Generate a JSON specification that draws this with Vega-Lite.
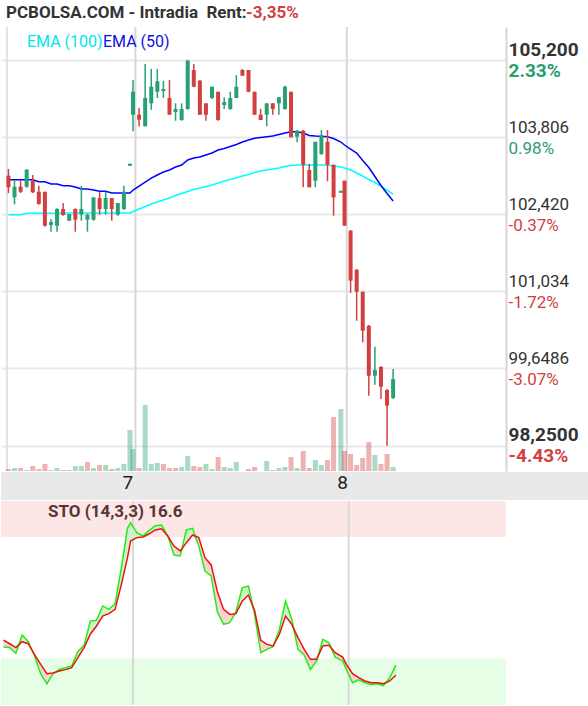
{
  "$schema": "https://vega.github.io/schema/vega-lite/v6.json",
  "padding": {"top": 4, "left": 0, "right": 0, "bottom": 0},
  "background": "white",
  "datasets": {
    "days": [{"day": "7", "i": 20.89, "li": 20.04}, {"day": "8", "i": 55.68, "li": 54.71}],
    "candles": [
      {"i":0,"o":103.115,"h":103.235,"l":102.803,"c":102.906,"dir":"down","vol":2,"vdir":"down","e50":103.043,"e100":102.412,"k":25.6,"d":29.0},
      {"i":1,"o":102.725,"h":103.037,"l":102.599,"c":102.916,"dir":"up","vol":3,"vdir":"up","e50":103.043,"e100":102.412,"k":25.3,"d":27.2},
      {"i":2,"o":102.916,"h":103.037,"l":102.803,"c":102.826,"dir":"down","vol":3,"vdir":"down","e50":103.043,"e100":102.412,"k":22.5,"d":25.3},
      {"i":3,"o":102.916,"h":103.235,"l":102.898,"c":103.223,"dir":"up","vol":1,"vdir":"up","e50":103.043,"e100":102.437,"k":31.5,"d":28.2},
      {"i":4,"o":103.025,"h":103.127,"l":102.803,"c":102.816,"dir":"down","vol":5,"vdir":"down","e50":103.043,"e100":102.437,"k":28.2,"d":27.2},
      {"i":5,"o":102.826,"h":102.934,"l":102.592,"c":102.605,"dir":"down","vol":2,"vdir":"down","e50":103.007,"e100":102.437,"k":21.1,"d":21.9},
      {"i":6,"o":102.826,"h":102.826,"l":102.196,"c":102.214,"dir":"down","vol":7,"vdir":"down","e50":103.007,"e100":102.437,"k":12.4,"d":17.0},
      {"i":7,"o":102.226,"h":102.334,"l":102.106,"c":102.280,"dir":"up","vol":1,"vdir":"up","e50":102.965,"e100":102.437,"k":7.4,"d":12.4},
      {"i":8,"o":102.214,"h":102.527,"l":102.106,"c":102.515,"dir":"up","vol":3,"vdir":"up","e50":102.965,"e100":102.437,"k":12.4,"d":12.7},
      {"i":9,"o":102.515,"h":102.623,"l":102.394,"c":102.406,"dir":"down","vol":1,"vdir":"down","e50":102.935,"e100":102.437,"k":14.5,"d":13.7},
      {"i":10,"o":102.304,"h":102.425,"l":102.304,"c":102.425,"dir":"up","vol":1,"vdir":"down","e50":102.935,"e100":102.443,"k":15.4,"d":14.4},
      {"i":11,"o":102.515,"h":102.527,"l":102.106,"c":102.322,"dir":"down","vol":5,"vdir":"up","e50":102.911,"e100":102.443,"k":16.2,"d":15.4},
      {"i":12,"o":102.412,"h":102.929,"l":102.304,"c":102.515,"dir":"up","vol":5,"vdir":"up","e50":102.875,"e100":102.443,"k":23.4,"d":20.3},
      {"i":13,"o":102.322,"h":102.425,"l":102.106,"c":102.412,"dir":"up","vol":9,"vdir":"down","e50":102.875,"e100":102.443,"k":26.4,"d":25.3},
      {"i":14,"o":102.322,"h":102.725,"l":102.304,"c":102.725,"dir":"up","vol":3,"vdir":"up","e50":102.857,"e100":102.443,"k":38.4,"d":31.9},
      {"i":15,"o":102.713,"h":102.826,"l":102.412,"c":102.515,"dir":"down","vol":6,"vdir":"down","e50":102.834,"e100":102.443,"k":38.8,"d":36.0},
      {"i":16,"o":102.515,"h":102.826,"l":102.412,"c":102.713,"dir":"up","vol":6,"vdir":"up","e50":102.834,"e100":102.443,"k":45.9,"d":40.9},
      {"i":17,"o":102.713,"h":102.713,"l":102.304,"c":102.515,"dir":"down","vol":2,"vdir":"down","e50":102.803,"e100":102.443,"k":44.2,"d":42.1},
      {"i":18,"o":102.412,"h":102.623,"l":102.394,"c":102.623,"dir":"up","vol":3,"vdir":"up","e50":102.803,"e100":102.443,"k":47.0,"d":44.2},
      {"i":19,"o":102.515,"h":102.934,"l":102.497,"c":102.826,"dir":"up","vol":7,"vdir":"up","e50":102.803,"e100":102.443,"k":64.5,"d":56.3},
      {"i":20,"o":103.295,"h":103.331,"l":103.295,"c":103.331,"dir":"up","vol":41,"vdir":"up","e50":102.803,"e100":102.443,"k":84.3,"d":69.8},
      {"i":20.5,"o":104.214,"h":104.839,"l":103.915,"c":104.628,"dir":"up","vol":22,"vdir":"up","e50":102.857,"e100":102.470,"k":87.1,"d":78.0},
      {"i":21.5,"o":104.214,"h":104.335,"l":104.005,"c":104.124,"dir":"down","vol":3,"vdir":"down","e50":102.929,"e100":102.515,"k":82.1,"d":79.7},
      {"i":22.5,"o":104.005,"h":105.128,"l":104.005,"c":104.515,"dir":"up","vol":66,"vdir":"up","e50":103.001,"e100":102.560,"k":80.5,"d":80.0},
      {"i":23.5,"o":104.419,"h":105.038,"l":104.304,"c":104.719,"dir":"up","vol":7,"vdir":"up","e50":103.073,"e100":102.605,"k":83.3,"d":81.6},
      {"i":24.5,"o":104.628,"h":105.038,"l":104.515,"c":104.816,"dir":"up","vol":8,"vdir":"up","e50":103.127,"e100":102.641,"k":85.6,"d":83.5},
      {"i":25.5,"o":104.641,"h":104.827,"l":104.515,"c":104.677,"dir":"up","vol":7,"vdir":"down","e50":103.181,"e100":102.677,"k":85.9,"d":84.1},
      {"i":26.5,"o":104.515,"h":104.839,"l":104.214,"c":104.214,"dir":"down","vol":3,"vdir":"down","e50":103.217,"e100":102.713,"k":80.5,"d":80.5},
      {"i":27.5,"o":104.263,"h":104.419,"l":104.106,"c":104.317,"dir":"up","vol":3,"vdir":"down","e50":103.272,"e100":102.758,"k":71.1,"d":75.5},
      {"i":28.5,"o":104.118,"h":104.419,"l":104.106,"c":104.317,"dir":"up","vol":4,"vdir":"up","e50":103.308,"e100":102.794,"k":70.6,"d":73.1},
      {"i":29.5,"o":104.317,"h":105.2,"l":104.304,"c":105.19,"dir":"up","vol":15,"vdir":"up","e50":103.398,"e100":102.830,"k":83.5,"d":77.2},
      {"i":30.5,"o":105.020,"h":105.128,"l":104.708,"c":104.719,"dir":"down","vol":5,"vdir":"down","e50":103.434,"e100":102.866,"k":84.3,"d":81.0},
      {"i":31.5,"o":104.827,"h":104.839,"l":104.214,"c":104.214,"dir":"down","vol":4,"vdir":"down","e50":103.452,"e100":102.893,"k":75.5,"d":79.7},
      {"i":32.5,"o":104.419,"h":104.419,"l":104.106,"c":104.214,"dir":"down","vol":7,"vdir":"up","e50":103.488,"e100":102.920,"k":63.2,"d":69.8},
      {"i":33.5,"o":104.515,"h":104.719,"l":104.497,"c":104.719,"dir":"up","vol":2,"vdir":"up","e50":103.524,"e100":102.947,"k":60.7,"d":66.2},
      {"i":34.5,"o":104.628,"h":104.628,"l":104.106,"c":104.118,"dir":"down","vol":14,"vdir":"down","e50":103.578,"e100":102.983,"k":42.9,"d":52.9},
      {"i":35.5,"o":104.389,"h":104.528,"l":104.317,"c":104.443,"dir":"up","vol":4,"vdir":"up","e50":103.605,"e100":103.019,"k":36.8,"d":44.2},
      {"i":36.5,"o":104.317,"h":104.628,"l":104.304,"c":104.515,"dir":"up","vol":3,"vdir":"up","e50":103.641,"e100":103.046,"k":37.6,"d":41.7},
      {"i":37.5,"o":104.515,"h":104.929,"l":104.515,"c":104.719,"dir":"up","vol":9,"vdir":"up","e50":103.677,"e100":103.073,"k":43.1,"d":42.1},
      {"i":38.5,"o":105.020,"h":105.038,"l":104.917,"c":104.917,"dir":"down","vol":0,"vdir":"up","e50":103.722,"e100":103.109,"k":54.9,"d":48.3},
      {"i":39.5,"o":105.020,"h":105.020,"l":104.618,"c":104.628,"dir":"down","vol":2,"vdir":"down","e50":103.758,"e100":103.136,"k":55.8,"d":51.3},
      {"i":40.5,"o":104.628,"h":104.628,"l":104.214,"c":104.214,"dir":"down","vol":4,"vdir":"down","e50":103.789,"e100":103.172,"k":41.7,"d":43.7},
      {"i":41.5,"o":104.214,"h":104.317,"l":104.118,"c":104.118,"dir":"down","vol":0,"vdir":"up","e50":103.803,"e100":103.199,"k":22.8,"d":28.9},
      {"i":42.5,"o":104.214,"h":104.419,"l":104.005,"c":104.419,"dir":"up","vol":10,"vdir":"up","e50":103.818,"e100":103.217,"k":24.4,"d":26.9},
      {"i":43.5,"o":104.419,"h":104.419,"l":104.214,"c":104.317,"dir":"down","vol":1,"vdir":"down","e50":103.830,"e100":103.235,"k":25.9,"d":26.1},
      {"i":44.5,"o":104.419,"h":104.528,"l":104.214,"c":104.528,"dir":"up","vol":3,"vdir":"up","e50":103.857,"e100":103.253,"k":34.3,"d":31.9},
      {"i":45.5,"o":104.317,"h":104.737,"l":104.304,"c":104.719,"dir":"up","vol":4,"vdir":"up","e50":103.884,"e100":103.280,"k":48.3,"d":40.9},
      {"i":46.5,"o":104.628,"h":104.628,"l":103.807,"c":103.807,"dir":"down","vol":14,"vdir":"down","e50":103.908,"e100":103.299,"k":39.3,"d":36.8},
      {"i":47.5,"o":103.818,"h":103.938,"l":103.717,"c":103.926,"dir":"up","vol":3,"vdir":"up","e50":103.908,"e100":103.308,"k":24.4,"d":30.2},
      {"i":48.5,"o":103.926,"h":103.938,"l":102.906,"c":103.313,"dir":"down","vol":20,"vdir":"down","e50":103.884,"e100":103.308,"k":21.6,"d":24.4},
      {"i":49.5,"o":103.217,"h":103.326,"l":102.906,"c":102.906,"dir":"down","vol":3,"vdir":"down","e50":103.839,"e100":103.308,"k":14.5,"d":19.5},
      {"i":50.5,"o":103.025,"h":103.727,"l":102.906,"c":103.727,"dir":"up","vol":11,"vdir":"up","e50":103.830,"e100":103.308,"k":18.7,"d":19.5},
      {"i":51.5,"o":103.506,"h":103.938,"l":103.488,"c":103.836,"dir":"up","vol":6,"vdir":"up","e50":103.825,"e100":103.308,"k":29.4,"d":26.1},
      {"i":52.5,"o":103.727,"h":103.938,"l":103.014,"c":103.313,"dir":"down","vol":11,"vdir":"down","e50":103.818,"e100":103.308,"k":27.7,"d":26.4},
      {"i":53.5,"o":103.313,"h":103.313,"l":102.394,"c":102.725,"dir":"down","vol":54,"vdir":"down","e50":103.785,"e100":103.290,"k":20.6,"d":22.8},
      {"i":54.7,"o":102.808,"h":102.844,"l":102.808,"c":102.844,"dir":"up","vol":62,"vdir":"up","e50":103.722,"e100":103.272,"k":18.7,"d":20.6},
      {"i":55.3,"o":103.025,"h":103.025,"l":102.214,"c":102.214,"dir":"down","vol":20,"vdir":"down","e50":103.668,"e100":103.253,"k":14.5,"d":17.0},
      {"i":56.3,"o":102.124,"h":102.136,"l":101.001,"c":101.223,"dir":"down","vol":17,"vdir":"down","e50":103.596,"e100":103.217,"k":7.9,"d":12.4},
      {"i":57.3,"o":101.421,"h":101.433,"l":100.502,"c":101.024,"dir":"down","vol":6,"vdir":"down","e50":103.524,"e100":103.163,"k":9.4,"d":10.4},
      {"i":58.3,"o":101.024,"h":101.024,"l":100.112,"c":100.321,"dir":"down","vol":13,"vdir":"down","e50":103.389,"e100":103.109,"k":7.9,"d":8.8},
      {"i":59.3,"o":100.412,"h":100.424,"l":99.150,"c":99.510,"dir":"down","vol":29,"vdir":"down","e50":103.263,"e100":103.046,"k":7.1,"d":7.9},
      {"i":60.3,"o":99.510,"h":100.033,"l":99.348,"c":99.613,"dir":"up","vol":16,"vdir":"up","e50":103.100,"e100":102.992,"k":7.4,"d":7.9},
      {"i":61.3,"o":99.673,"h":99.673,"l":99.091,"c":99.312,"dir":"down","vol":7,"vdir":"down","e50":102.938,"e100":102.929,"k":6.5,"d":7.4},
      {"i":62.3,"o":99.253,"h":99.271,"l":98.25,"c":98.970,"dir":"down","vol":17,"vdir":"down","e50":102.794,"e100":102.857,"k":10.4,"d":8.8},
      {"i":63.3,"o":99.109,"h":99.631,"l":99.091,"c":99.451,"dir":"up","vol":4,"vdir":"up","e50":102.659,"e100":102.785,"k":16.6,"d":11.6}
    ]
  },
  "title": {
    "text": "PCBOLSA.COM - Intradia\u00a0 Rent:",
    "anchor": "start",
    "frame": "group",
    "offset": -18,
    "dx": 5,
    "font": "Roboto",
    "fontSize": 17,
    "fontWeight": "bold",
    "color": "#333333"
  },
  "spacing": 0,
  "vconcat": [
    {
      "width": 505,
      "height": 444,
      "title": {"text": "-3,35%", "anchor": "start", "frame": "group", "offset": 4, "dx": 245, "font": "Roboto", "fontSize": 17, "fontWeight": "bold", "color": "#d23f3f"},
      "layer": [
        {
          "layer": [
            {
              "data": {"name": "days"},
              "mark": {"type": "rule", "color": "#d9d9d9", "strokeWidth": 2},
              "encoding": {"x": {"field": "i", "type": "quantitative", "scale": {"domain": [-0.4, 81.05], "nice": false, "zero": false}, "axis": null}}
            },
            {
              "data": {"values": [{}]},
              "mark": {"type": "rule", "color": "#e3e3e3", "strokeWidth": 2},
              "encoding": {"x": {"datum": -0.24, "type": "quantitative", "scale": {"domain": [-0.4, 81.05], "nice": false, "zero": false}, "axis": null}}
            },
            {
              "data": {"name": "candles"},
              "transform": [{"fold": ["e100", "e50"], "as": ["ema", "val"]}],
              "mark": {"type": "line", "strokeWidth": 1.5},
              "encoding": {
                "x": {"field": "i", "type": "quantitative", "scale": {"domain": [-0.4, 81.05], "nice": false, "zero": false}, "axis": null},
                "y": {"field": "val", "type": "quantitative", "scale": {"domain": [97.793, 105.795], "nice": false, "zero": false}, "axis": null},
                "stroke": {
                  "field": "ema", "type": "nominal",
                  "scale": {"domain": ["e100", "e50"], "range": ["#00ffff", "#0000ff"]},
                  "legend": {
                    "title": null, "orient": "none", "legendX": 26, "legendY": 7,
                    "direction": "horizontal", "symbolSize": 0, "symbolStrokeWidth": 0,
                    "labelOffset": -16, "columnPadding": 0, "padding": 0,
                    "labelFont": "Roboto", "labelFontSize": 16,
                    "labelExpr": "datum.label == 'e100' ? 'EMA (100)' : 'EMA (50)'",
                    "encode": {"labels": {"update": {"fill": {"signal": "datum.value == 'e100' ? '#00e5f0' : '#1010e0'"}}}}
                  }
                }
              }
            },
            {
              "data": {"name": "candles"},
              "mark": {"type": "rule", "strokeWidth": 1.5},
              "encoding": {
                "x": {"field": "i", "type": "quantitative", "scale": {"domain": [-0.4, 81.05], "nice": false, "zero": false}, "axis": null},
                "y": {
                  "field": "l", "type": "quantitative",
                  "scale": {"domain": [97.793, 105.795], "nice": false, "zero": false},
                  "axis": {
                    "orient": "right",
                    "values": [98.25, 99.6486, 101.034, 102.42, 103.806, 105.2],
                    "title": null, "grid": true, "gridColor": "#e9e9e9", "gridWidth": 2,
                    "domain": true, "domainColor": "#d6d6d6", "domainWidth": 2,
                    "ticks": false, "labelPadding": 2, "labelFont": "Roboto",
                    "labelColor": "#333333", "labelBaseline": "alphabetic", "labelOffset": -5,
                    "labelOverlap": false, "labelFlush": false,
                    "labelFontSize": {"condition": {"test": "datum.value > 105 || datum.value < 98.5", "value": 19}, "value": 17},
                    "labelFontWeight": {"condition": {"test": "datum.value > 105 || datum.value < 98.5", "value": "bold"}, "value": "normal"},
                    "labelExpr": "datum.value > 105 ? '105,200' : datum.value > 103.5 ? '103,806' : datum.value > 102 ? '102,420' : datum.value > 100.5 ? '101,034' : datum.value > 99 ? '99,6486' : '98,2500'"
                  }
                },
                "y2": {"field": "h"},
                "color": {"field": "dir", "type": "nominal", "scale": {"domain": ["up", "down"], "range": ["#27a074", "#d23f3f"]}, "legend": null}
              }
            },
            {
              "data": {"name": "candles"},
              "mark": {"type": "bar", "size": 4},
              "encoding": {
                "x": {"field": "i", "type": "quantitative", "scale": {"domain": [-0.4, 81.05], "nice": false, "zero": false}, "axis": null},
                "y": {
                  "field": "o", "type": "quantitative",
                  "scale": {"domain": [97.793, 105.795], "nice": false, "zero": false},
                  "axis": {
                    "orient": "right",
                    "values": [98.25, 99.6486, 101.034, 102.42, 103.806, 105.2],
                    "title": null, "grid": false, "domain": false, "ticks": false,
                    "labelPadding": 2, "labelFont": "Roboto",
                    "labelBaseline": "alphabetic", "labelOffset": 16,
                    "labelOverlap": false, "labelFlush": false,
                    "labelColor": {"condition": {"test": "datum.value > 102.8", "value": "#2a9d6d"}, "value": "#d23f3f"},
                    "labelFontSize": {"condition": {"test": "datum.value > 105 || datum.value < 98.5", "value": 19}, "value": 17},
                    "labelFontWeight": {"condition": {"test": "datum.value > 105 || datum.value < 98.5", "value": "bold"}, "value": "normal"},
                    "labelExpr": "datum.value > 105 ? '2.33%' : datum.value > 103.5 ? '0.98%' : datum.value > 102 ? '-0.37%' : datum.value > 100.5 ? '-1.72%' : datum.value > 99 ? '-3.07%' : '-4.43%'"
                  }
                },
                "y2": {"field": "c"},
                "color": {"field": "dir", "type": "nominal", "scale": {"domain": ["up", "down"], "range": ["#27a074", "#d23f3f"]}, "legend": null}
              }
            }
          ],
          "resolve": {"axis": {"y": "independent"}}
        },
        {
          "data": {"name": "candles"},
          "mark": {"type": "bar", "size": 5, "opacity": 0.4},
          "encoding": {
            "x": {"field": "i", "type": "quantitative", "scale": {"domain": [-0.4, 81.05], "nice": false, "zero": false}, "axis": null},
            "y": {"field": "vol", "type": "quantitative", "scale": {"domain": [0, 444]}, "axis": null},
            "color": {"field": "vdir", "type": "nominal", "scale": {"domain": ["up", "down"], "range": ["#27a074", "#d23f3f"]}, "legend": null}
          }
        }
      ],
      "resolve": {"scale": {"y": "independent"}}
    },
    {
      "width": 588,
      "height": 28,
      "view": {"fill": "#e9e9e9", "stroke": null},
      "data": {"name": "days"},
      "mark": {"type": "text", "font": "Roboto", "fontSize": 19, "color": "#222222", "baseline": "middle", "dy": -3},
      "encoding": {
        "x": {"field": "li", "type": "quantitative", "scale": {"domain": [-0.4, 94.44], "nice": false, "zero": false}, "axis": null},
        "text": {"field": "day"}
      }
    },
    {
      "width": 505,
      "height": 204,
      "title": {"text": "STO (14,3,3) 16.6", "anchor": "start", "frame": "group", "offset": -21, "dx": 47, "font": "Roboto", "fontSize": 17, "fontWeight": "bold", "color": "#5a3434"},
      "layer": [
        {
          "data": {"values": [{}]},
          "mark": {"type": "rect", "color": "#fde6e6"},
          "encoding": {
            "x": {"datum": -0.4, "type": "quantitative", "scale": {"domain": [-0.4, 81.05], "nice": false, "zero": false}, "axis": null},
            "x2": {"datum": 81.05},
            "y": {"datum": 80, "type": "quantitative", "scale": {"domain": [-3.1, 97.81], "nice": false, "zero": false},
              "axis": {
                "orient": "right", "values": [20, 50, 80], "title": null,
                "grid": true, "gridColor": "#e4e4e4", "gridWidth": 1,
                "domain": true, "domainColor": "#d2d2d2", "domainWidth": 1.5,
                "ticks": false, "labelPadding": 4, "labelFont": "Roboto", "labelFontSize": 17, "labelFontWeight": "bold",
                "labelBaseline": "middle", "labelOffset": 5, "zindex": 1,
                "labelColor": {"condition": [{"test": "datum.value == 80", "value": "#d04545"}, {"test": "datum.value == 20", "value": "#2a9d6d"}], "value": "#111111"}
              }
            },
            "y2": {"datum": 97.81}
          }
        },
        {
          "data": {"values": [{}]},
          "mark": {"type": "rect", "color": "#e6fde6"},
          "encoding": {
            "x": {"datum": -0.4, "type": "quantitative", "scale": {"domain": [-0.4, 81.05], "nice": false, "zero": false}, "axis": null},
            "x2": {"datum": 81.05},
            "y": {"datum": -3.1, "type": "quantitative", "scale": {"domain": [-3.1, 97.81], "nice": false, "zero": false}, "axis": null},
            "y2": {"datum": 20}
          }
        },
        {
          "data": {"name": "days"},
          "mark": {"type": "rule", "color": "#d9d9d9", "strokeWidth": 2},
          "encoding": {
            "x": {"field": "i", "type": "quantitative", "scale": {"domain": [-0.4, 81.05], "nice": false, "zero": false},
              "axis": {"orient": "bottom", "labels": false, "ticks": false, "grid": false, "domain": true, "domainColor": "#dcdcdc", "domainWidth": 1.5, "title": null}}
          }
        },
        {
          "data": {"name": "candles"},
          "transform": [
            {"fold": ["k", "d"], "as": ["key", "val"]},
            {"joinaggregate": [{"op": "min", "field": "val", "as": "lo"}], "groupby": ["i"]},
            {"filter": "datum.key == 'k'"}
          ],
          "mark": {"type": "area", "color": "#c9f3c9", "opacity": 0.9},
          "encoding": {
            "x": {"field": "i", "type": "quantitative", "scale": {"domain": [-0.4, 81.05], "nice": false, "zero": false}, "axis": null},
            "y": {"field": "val", "type": "quantitative", "scale": {"domain": [-3.1, 97.81], "nice": false, "zero": false}, "axis": null},
            "y2": {"field": "lo"}
          }
        },
        {
          "data": {"name": "candles"},
          "transform": [
            {"fold": ["k", "d"], "as": ["key", "val"]},
            {"joinaggregate": [{"op": "min", "field": "val", "as": "lo"}], "groupby": ["i"]},
            {"filter": "datum.key == 'd'"}
          ],
          "mark": {"type": "area", "color": "#f7cfcf", "opacity": 0.9},
          "encoding": {
            "x": {"field": "i", "type": "quantitative", "scale": {"domain": [-0.4, 81.05], "nice": false, "zero": false}, "axis": null},
            "y": {"field": "val", "type": "quantitative", "scale": {"domain": [-3.1, 97.81], "nice": false, "zero": false}, "axis": null},
            "y2": {"field": "lo"}
          }
        },
        {
          "data": {"name": "candles"},
          "mark": {"type": "line", "color": "#22ee11", "strokeWidth": 1.5},
          "encoding": {
            "x": {"field": "i", "type": "quantitative", "scale": {"domain": [-0.4, 81.05], "nice": false, "zero": false}, "axis": null},
            "y": {"field": "k", "type": "quantitative", "scale": {"domain": [-3.1, 97.81], "nice": false, "zero": false}, "axis": null}
          }
        },
        {
          "data": {"name": "candles"},
          "mark": {"type": "line", "color": "#ee1111", "strokeWidth": 1.5},
          "encoding": {
            "x": {"field": "i", "type": "quantitative", "scale": {"domain": [-0.4, 81.05], "nice": false, "zero": false}, "axis": null},
            "y": {"field": "d", "type": "quantitative", "scale": {"domain": [-3.1, 97.81], "nice": false, "zero": false}, "axis": null}
          }
        }
      ]
    }
  ],
  "config": {"view": {"stroke": null}, "font": "Roboto"}
}
